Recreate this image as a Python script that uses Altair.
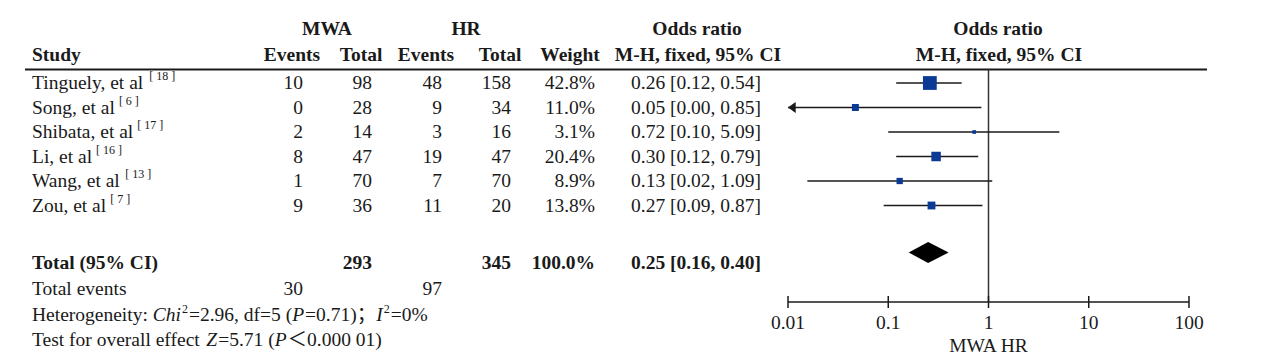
import altair as alt
import pandas as pd

# ---------------- data ----------------
studies = ["Tinguely, et al", "Song, et al", "Shibata, et al", "Li, et al", "Wang, et al", "Zou, et al"]
refs = ["18", "6", "17", "16", "13", "7"]
mwa_events = [10, 0, 2, 8, 1, 9]
mwa_total = [98, 28, 14, 47, 70, 36]
hr_events = [48, 9, 3, 19, 7, 11]
hr_total = [158, 34, 16, 47, 70, 20]
weights = [42.8, 11.0, 3.1, 20.4, 8.9, 13.8]
or_est = [0.26, 0.047, 0.72, 0.30, 0.13, 0.27]
or_lo = [0.12, 0.0026, 0.10, 0.12, 0.0156, 0.09]
or_hi = [0.54, 0.85, 5.09, 0.79, 1.09, 0.87]

total_mwa = 293
total_hr = 345
total_weight = 100.0
pooled_est, pooled_lo, pooled_hi = 0.25, 0.16, 0.40
events_mwa = 30
events_hr = 97
het_segments = [("Heterogeneity: ", "n"), ("Chi", "i"), ("2", "sup"), ("=2.96, df=5 (", "n"),
                ("P", "i"), ("=0.71)；", "n"), ("I", "i"), ("2", "sup"), ("=0%", "n")]
test_segments = [("Test for overall effect ", "n"), ("Z", "i"), ("=5.71 (", "n"), ("P", "i"),
                 ("＜0.000 01)", "n")]
axis_ticks = [0.01, 0.1, 1, 10, 100]
axis_labels = ["0.01", "0.1", "1", "10", "100"]
axis_title = "MWA HR"

# ---------------- layout / style ----------------
W, H = 1255, 348
FONT = "Liberation Serif, Noto Sans CJK SC"
FS, FS_SUP = 19.5, 12
INK = "#1a1a1a"
BLUE = "#0b3a94"

ROW_Y = [83, 107.5, 132, 156.5, 181, 205.5]
Y_H1, Y_H2, Y_LINE = 29, 55, 69.5
Y_TOTAL, Y_EVENTS, Y_HET, Y_TEST = 263, 289, 315, 340
Y_DIAMOND, DIAMOND_HALF = 252.5, 10.5
Y_AXIS, Y_TICKLAB, Y_AXTITLE = 302, 323, 346
X_STUDY = 32
COL = dict(me=303, mt=372, he=442, ht=511, w=595, orr=761)

ROMAN = {' ': 250, '%': 833, '(': 333, ')': 333, ',': 250, '-': 333, '.': 250, ':': 278, ';': 278,
         '<': 564, '=': 564, '[': 333, ']': 333,
         'A': 722, 'B': 667, 'C': 667, 'D': 722, 'E': 611, 'F': 556, 'G': 722, 'H': 722, 'I': 333,
         'J': 389, 'K': 722, 'L': 611, 'M': 889, 'N': 722, 'O': 722, 'P': 556, 'Q': 722, 'R': 667,
         'S': 556, 'T': 611, 'U': 722, 'V': 722, 'W': 944, 'X': 722, 'Y': 722, 'Z': 611,
         'a': 444, 'b': 500, 'c': 444, 'd': 500, 'e': 444, 'f': 333, 'g': 500, 'h': 500, 'i': 278,
         'j': 278, 'k': 500, 'l': 278, 'm': 778, 'n': 500, 'o': 500, 'p': 500, 'q': 500, 'r': 333,
         's': 389, 't': 278, 'u': 500, 'v': 500, 'w': 722, 'x': 500, 'y': 500, 'z': 444}
ITALIC = {'C': 667, 'h': 500, 'i': 278, 'P': 611, 'I': 333, 'Z': 556}


def text_width(s, size, italic=False):
    w = 0
    for ch in s:
        if ord(ch) > 0x2000:
            w += 1000
        elif italic and ch in ITALIC:
            w += ITALIC[ch]
        else:
            w += ROMAN.get(ch, 500)
    return w * size / 1000.0


X_PX = alt.Scale(domain=[8, 8 + W], nice=False, zero=False)
Y_PX = alt.Scale(domain=[8 + H, 8], nice=False, zero=False)
X_LOG = alt.Scale(type="log", domain=[0.01, 100], range=[780, 1181], nice=False)


def text_layer(rows, align="left", weight="normal", style="normal", size=FS, xscale=X_PX):
    df = pd.DataFrame(rows, columns=["x", "y", "text"])
    return alt.Chart(df).mark_text(
        align=align, baseline="middle", font=FONT, fontSize=size,
        fontWeight=weight, fontStyle=style, color=INK
    ).encode(
        x=alt.X("x:Q", scale=xscale, axis=None),
        y=alt.Y("y:Q", scale=Y_PX, axis=None),
        text="text:N",
    )


def fmt_or(e, lo, hi):
    return f"{e:.2f} [{lo:.2f}, {hi:.2f}]"


left_n, right_n, center_b, left_b, right_b, left_i, sup = [], [], [], [], [], [], []

# headers
for x, y, t in [(327, Y_H1, "MWA"), (466, Y_H1, "HR"), (697, Y_H1, "Odds ratio"), (998, Y_H1, "Odds ratio"),
                (292, Y_H2, "Events"), (361, Y_H2, "Total"), (426, Y_H2, "Events"), (500, Y_H2, "Total"),
                (570, Y_H2, "Weight"), (698, Y_H2, "M-H, fixed, 95% CI"), (999, Y_H2, "M-H, fixed, 95% CI")]:
    center_b.append((x, y, t))
left_b.append((X_STUDY, Y_H2, "Study"))

# study rows
for i, name in enumerate(studies):
    y = ROW_Y[i]
    left_n.append((X_STUDY, y, name))
    sup.append((X_STUDY + text_width(name, FS) + 4, y - 7, f"[ {refs[i]} ]"))
    right_n.append((COL["me"], y, str(mwa_events[i])))
    right_n.append((COL["mt"], y, str(mwa_total[i])))
    right_n.append((COL["he"], y, str(hr_events[i])))
    right_n.append((COL["ht"], y, str(hr_total[i])))
    right_n.append((COL["w"], y, f"{weights[i]:.1f}%"))
    right_n.append((COL["orr"], y, fmt_or(or_est[i], or_lo[i], or_hi[i])))

# total rows
left_b.append((X_STUDY, Y_TOTAL, "Total (95% CI)"))
right_b.append((COL["mt"], Y_TOTAL, str(total_mwa)))
right_b.append((COL["ht"], Y_TOTAL, str(total_hr)))
right_b.append((COL["w"], Y_TOTAL, f"{total_weight:.1f}%"))
right_b.append((COL["orr"], Y_TOTAL, fmt_or(pooled_est, pooled_lo, pooled_hi)))
left_n.append((X_STUDY, Y_EVENTS, "Total events"))
right_n.append((COL["me"], Y_EVENTS, str(events_mwa)))
right_n.append((COL["he"], Y_EVENTS, str(events_hr)))

# footnote lines with mixed styles
for segs, y in [(het_segments, Y_HET), (test_segments, Y_TEST)]:
    x = X_STUDY
    for t, st in segs:
        if st == "n":
            left_n.append((x, y, t))
            x += text_width(t, FS)
        elif st == "i":
            left_i.append((x, y, t))
            x += text_width(t, FS, italic=True) + 1
        else:
            sup.append((x, y - 6, t))
            x += text_width(t, FS_SUP) + 1

layers = [
    text_layer(left_n, "left"),
    text_layer(right_n, "right"),
    text_layer(center_b, "center", weight="bold"),
    text_layer(left_b, "left", weight="bold"),
    text_layer(right_b, "right", weight="bold"),
    text_layer(left_i, "left", style="italic"),
    text_layer(sup, "left", size=FS_SUP),
]

# header rule
hdr = pd.DataFrame({"x": [25], "x2": [1207], "y": [Y_LINE]})
layers.append(alt.Chart(hdr).mark_rule(color=INK, strokeWidth=2).encode(
    x=alt.X("x:Q", scale=X_PX, axis=None), x2="x2:Q", y=alt.Y("y:Q", scale=Y_PX, axis=None)))

# ---------------- forest plot ----------------
forest = pd.DataFrame({
    "study": studies, "est": or_est,
    "lo": [max(v, 0.01) for v in or_lo], "hi": or_hi,
    "weight": weights, "y": ROW_Y,
})

vline = pd.DataFrame({"x": [1], "y": [Y_LINE], "y2": [Y_AXIS]})
layers.append(alt.Chart(vline).mark_rule(color="#333333", strokeWidth=1.5).encode(
    x=alt.X("x:Q", scale=X_LOG, axis=None), y=alt.Y("y:Q", scale=Y_PX, axis=None), y2="y2:Q"))

layers.append(alt.Chart(forest).mark_rule(color=INK, strokeWidth=1.5).encode(
    x=alt.X("lo:Q", scale=X_LOG, axis=None), x2="hi:Q", y=alt.Y("y:Q", scale=Y_PX, axis=None)))

layers.append(alt.Chart(forest).mark_square(color=BLUE, opacity=1).encode(
    x=alt.X("est:Q", scale=X_LOG, axis=None), y=alt.Y("y:Q", scale=Y_PX, axis=None),
    size=alt.Size("weight:Q", scale=alt.Scale(domain=[0, 42.8], range=[0, 190]), legend=None)))

arrows = pd.DataFrame({"x": [0.01 for v in or_lo if v < 0.01],
                       "y": [ROW_Y[i] for i, v in enumerate(or_lo) if v < 0.01]})
layers.append(alt.Chart(arrows).mark_point(
    shape="M0,0L1.4,-1L1.4,1Z", filled=True, color=INK, opacity=1, size=120, strokeWidth=0).encode(
    x=alt.X("x:Q", scale=X_LOG, axis=None), y=alt.Y("y:Q", scale=Y_PX, axis=None)))

diamond = pd.DataFrame({
    "x": [pooled_lo, pooled_est, pooled_hi],
    "y": [Y_DIAMOND, Y_DIAMOND - DIAMOND_HALF, Y_DIAMOND],
    "y2": [Y_DIAMOND, Y_DIAMOND + DIAMOND_HALF, Y_DIAMOND],
})
layers.append(alt.Chart(diamond).mark_area(color="#000000", orient="vertical", opacity=1).encode(
    x=alt.X("x:Q", scale=X_LOG, axis=None), y=alt.Y("y:Q", scale=Y_PX, axis=None), y2="y2:Q"))

# axis
axline = pd.DataFrame({"x": [axis_ticks[0]], "x2": [axis_ticks[-1]], "y": [Y_AXIS]})
layers.append(alt.Chart(axline).mark_rule(color=INK, strokeWidth=1.5).encode(
    x=alt.X("x:Q", scale=X_LOG, axis=None), x2="x2:Q", y=alt.Y("y:Q", scale=Y_PX, axis=None)))
ticks = pd.DataFrame({"x": axis_ticks, "y": [Y_AXIS - 6] * 5, "y2": [Y_AXIS + 6] * 5})
layers.append(alt.Chart(ticks).mark_rule(color=INK, strokeWidth=1.5).encode(
    x=alt.X("x:Q", scale=X_LOG, axis=None), y=alt.Y("y:Q", scale=Y_PX, axis=None), y2="y2:Q"))
layers.append(text_layer([(t, Y_TICKLAB, l) for t, l in zip(axis_ticks, axis_labels)],
                         "center", xscale=X_LOG))
layers.append(text_layer([(1, Y_AXTITLE, axis_title)], "center", xscale=X_LOG))

chart = alt.layer(*layers).resolve_scale(x="independent").properties(
    width=W, height=H, padding=0, autosize=alt.AutoSizeParams(type="none"),
    background="white",
).configure_view(stroke=None)

chart.save("out.html", embed_options={"renderer": "svg", "actions": False})
